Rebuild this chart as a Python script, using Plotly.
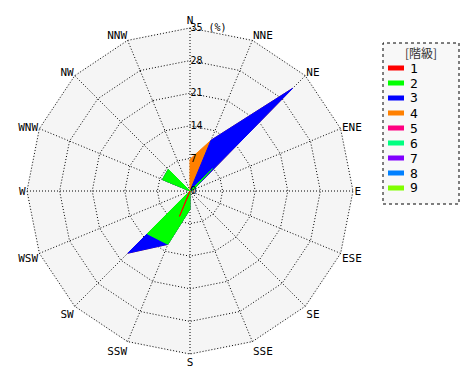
import plotly.graph_objects as go

dirs = ['N', 'NNE', 'NE', 'ENE', 'E', 'ESE', 'SE', 'SSE',
        'S', 'SSW', 'SW', 'WSW', 'W', 'WNW', 'NW', 'NNW']
class_names = ['1', '2', '3', '4', '5', '6', '7', '8', '9']
class_colors = ['#ff0000', '#00ff00', '#0000ff', '#ff8000', '#ff0080',
                '#00ff80', '#8000ff', '#0080ff', '#80ff00']

level1 = [0, 0, 0, 0, 0, 0, 0, 0, 0, 5.9, 0, 0, 0, 0, 0, 0]
level2 = [0, 0, 6.8, 0.8, 0, 0, 0, 0, 3.9, 6.5, 13.0, 0, 0, 6.4, 6.6, 0]
level3 = [0, 11.8, 24.4, 0, 0, 0, 0, 0, 0, 0, 5.9, 0, 0, 0, 0, 0]
level4 = [6.8, 0, 0, 0, 0, 0, 0, 0, 0, 0, 0, 0, 0, 0, 0, 0]
level5 = [0] * 16
level6 = [0] * 16
level7 = [0] * 16
level8 = [0] * 16
level9 = [0] * 16
levels = [level1, level2, level3, level4, level5, level6, level7, level8, level9]

radial_ticks = [0, 7, 14, 21, 28, 35]
radial_labels = ['0', '7', '14', '21', '28', '35 (%)']
legend_title = '[階級]'

# cumulative stacking
cums = []
cum = [0.0] * 16
for lv in levels:
    cum = [c + v for c, v in zip(cum, lv)]
    cums.append(cum)

fig = go.Figure()
# dotted outer frame at the last radial tick
outer = [radial_ticks[-1]] * 16
fig.add_trace(go.Scatterpolar(
    r=outer + [outer[0]], theta=dirs + [dirs[0]], mode='lines',
    line=dict(color='black', width=1, dash='1px,2px'),
    hoverinfo='skip', showlegend=False,
))
for i in reversed(range(len(levels))):
    r = cums[i] if any(levels[i]) else [0.0] * 16
    fig.add_trace(go.Scatterpolar(
        r=r + [r[0]], theta=dirs + [dirs[0]],
        mode='lines', fill='toself', fillcolor=class_colors[i],
        line=dict(color=class_colors[i], width=1),
        name=class_names[i], showlegend=False,
    ))

W, H = 470, 380
rmax = 35.2
cx, cy, R = 182, 183, 163 * rmax / 35

# manual legend (box, title, swatches, labels)
shapes = [dict(type='rect', xref='paper', yref='paper',
               x0=375 / W, x1=451 / W, y0=1 - 196 / H, y1=1 - 35 / H,
               line=dict(color='black', width=1, dash='dot'),
               fillcolor='#f8f8f8', layer='below')]
annotations = [dict(text=legend_title, xref='paper', yref='paper',
                    x=413 / W, y=1 - 44 / H, showarrow=False,
                    xanchor='center', yanchor='middle',
                    font=dict(family='Noto Sans CJK JP', size=12, color='#333333'))]
for k, (nm, col) in enumerate(zip(class_names, class_colors)):
    yy = 60 + 15 * k
    shapes.append(dict(type='rect', xref='paper', yref='paper',
                       x0=380 / W, x1=396 / W, y0=1 - (yy + 2.5) / H, y1=1 - (yy - 2.5) / H,
                       line=dict(width=0), fillcolor=col))
    annotations.append(dict(text=nm, xref='paper', yref='paper',
                            x=400 / W, y=1 - yy / H, showarrow=False,
                            xanchor='left', yanchor='middle',
                            font=dict(size=13, color='black')))

fig.update_layout(
    width=W, height=H,
    margin=dict(l=0, r=0, t=0, b=0),
    paper_bgcolor='white',
    font=dict(family='DejaVu Sans Mono, Noto Sans CJK JP', size=11, color='black'),
    showlegend=False,
    polar=dict(
        domain=dict(x=[(cx - R) / W, (cx + R) / W], y=[1 - (cy + R) / H, 1 - (cy - R) / H]),
        bgcolor='#f5f5f5',
        gridshape='linear',
        angularaxis=dict(
            rotation=90, direction='clockwise',
            categoryorder='array', categoryarray=dirs,
            showgrid=True, gridcolor='black', griddash='1px,2px', gridwidth=1,
            showline=False, ticks='',
            tickfont=dict(size=11),
        ),
        radialaxis=dict(
            range=[0, rmax], tickvals=radial_ticks, ticktext=radial_labels,
            showline=False, ticks='', angle=90, tickangle=90,
            gridcolor='black', griddash='1px,2px', gridwidth=1,
            tickfont=dict(size=10),
        ),
    ),
    shapes=shapes,
    annotations=annotations,
)

fig.write_html('out.html')
